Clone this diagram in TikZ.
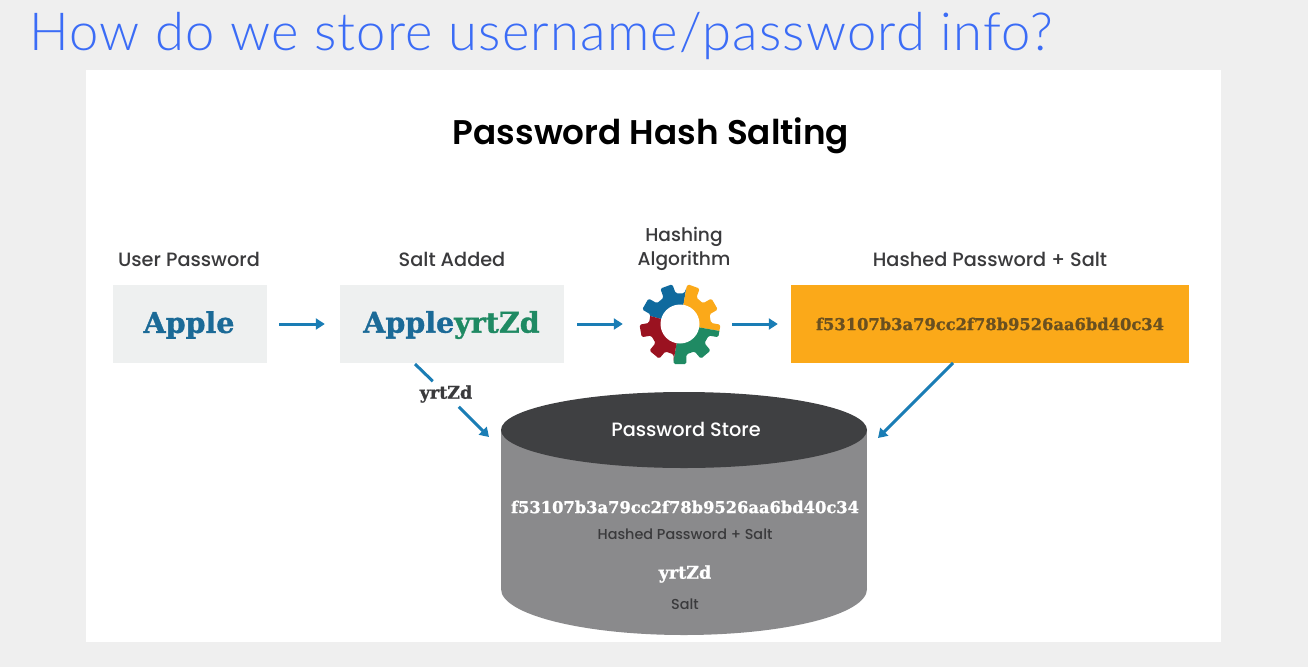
\documentclass[tikz,border=0pt]{standalone}
\usepackage{fontspec}
\usetikzlibrary{arrows.meta,shapes.geometric}
\setmainfont{Poppins Medium}
\newfontfamily\headf{Poppins SemiBold}
\newfontfamily\titlef{Lato Light}[LetterSpace=2.35]
\newfontfamily\slabf{DejaVu Serif Bold}[FakeBold=1.2]
\newcommand{\fs}[1]{\fontsize{#1}{#1}\selectfont}
\definecolor{pagebg}{HTML}{EFEFEF}
\definecolor{titleblue}{HTML}{3B6CF6}
\definecolor{arrowblue}{HTML}{1A7DB5}
\definecolor{boxgray}{HTML}{EEF0F0}
\definecolor{amberbox}{HTML}{FBA919}
\definecolor{appleblue}{HTML}{1B6A97}
\definecolor{saltgreen}{HTML}{1F8A63}
\definecolor{darktext}{HTML}{3A3A3C}
\definecolor{cyltop}{HTML}{3F4042}
\definecolor{cylbody}{HTML}{8A8A8C}
\definecolor{hashbrown}{HTML}{6A5020}
\definecolor{gearblue}{HTML}{0F6A9E}
\definecolor{gearamber}{HTML}{FBA919}
\definecolor{geargreen}{HTML}{1F8A63}
\definecolor{gearred}{HTML}{9A1220}
\tikzset{
  x=1pt,y=-1pt,
  flow/.style={draw=arrowblue,line width=3pt,-{Triangle[length=9pt,width=11pt]}},
  plainflow/.style={draw=arrowblue,line width=3pt},
  caption/.style={inner sep=0pt,text=darktext,font=\fs{19.3}},
  smallcap/.style={inner sep=0pt,text=darktext,font=\fs{14.4}},
  valuebox/.style={inner sep=0pt,minimum height=78pt},
  slab/.style={inner sep=0pt},
}
\begin{document}
\begin{tikzpicture}
\useasboundingbox (0,0) rectangle (1308,667);
\fill[pagebg] (0,0) rectangle (1308,667);
\fill[white] (86,70) rectangle (1221,642);
\node[inner sep=0pt,anchor=base west,text=titleblue,font=\titlef\fs{52.5}] (title) at (29,50) {How do we store username/password info?};
\node[inner sep=0pt,font=\headf\fs{34.2},text=black] (head) at (651,136) {Password Hash Salting};
% boxes
\node[valuebox,fill=boxgray,minimum width=154pt] (user) at (190,324) {};
\node[slab,text=appleblue,font=\slabf\fs{28.5}] (usertxt) at (189,325) {Apple};
\node[valuebox,fill=boxgray,minimum width=224pt] (salt) at (452,324) {};
\node[slab,font=\slabf\fs{28.5}] (salttxt) at (451.5,325) {\textcolor{appleblue}{Apple}\textcolor{saltgreen}{yrtZd}};
\node[valuebox,fill=amberbox,minimum width=398pt] (hash) at (990,324) {};
\node[slab,text=hashbrown,font=\slabf\fs{16.3}] (hashtxt) at (990,324) {f53107b3a79cc2f78b9526aa6bd40c34};
% captions
\node[caption] (c1) at (189,259) {User Password};
\node[caption] (c2) at (452,259) {Salt Added};
\node[caption,align=center,font=\fs{18.6}] (c3) at (684,249) {Hashing\\[3pt]Algorithm};
\node[caption] (c4) at (990,259) {Hashed Password + Salt};
% gear
\node[circle,inner sep=0pt,minimum size=80pt] (gear) at (680,324) {};
\begin{scope}[shift={(680,324)},y=1pt]
  \begin{scope}
    \clip[rounded corners=1.5pt] (-116:31)
      \foreach \a in {-90,-50,...,230}{
        -- (\a-12:31) -- (\a-9:40.5) -- (\a+9:40.5) -- (\a+12:31)
      } -- cycle;
    \fill[gearblue] (0,0) -- (80:50) arc (80:165:50) -- cycle;
    \fill[gearamber] (0,0) -- (80:50) arc (80:-10:50) -- cycle;
    \fill[geargreen] (0,0) -- (-10:50) arc (-10:-100:50) -- cycle;
    \fill[gearred] (0,0) -- (-100:50) arc (-100:-195:50) -- cycle;
  \end{scope}
  \fill[white] (0,0) circle (19.5);
\end{scope}
% cylinder
\fill[cylbody] (501,430) rectangle (867,589);
\fill[cylbody] (684,589) ellipse[x radius=183,y radius=46];
\node[ellipse,fill=cyltop,inner sep=0pt,minimum width=366pt,minimum height=76pt] (store) at (684,430) {};
\node[inner sep=0pt,text=white,font=\fs{19.3}] (s1) at (686,429) {Password Store};
\node[slab,text=white,font=\slabf\fs{16.3}] (s2) at (685,507) {f53107b3a79cc2f78b9526aa6bd40c34};
\node[smallcap] (s3) at (685,534) {Hashed Password + Salt};
\node[slab,text=white,font=\slabf\fs{17.5}] (s4) at (685,574) {yrtZd};
\node[smallcap] (s5) at (685,604) {Salt};
% connectors
\draw[flow,shorten <=12pt,shorten >=15pt,yshift=1pt] (user.east) -- (salt.west);
\draw[flow,shorten <=13pt,shorten >=17pt,yshift=1pt] (salt.east) -- (gear.west);
\draw[flow,shorten <=12pt,shorten >=13pt,yshift=1pt] (gear.east) -- (hash.west);
\coordinate (saltout) at (415,364);
\coordinate (storein) at (489,437);
\coordinate (hashout) at (953,363);
\coordinate (storeinb) at (878,438);
\node[slab,text=darktext,font=\slabf\fs{17.5},inner xsep=2pt,inner ysep=4pt] (lbl) at (446,394) {yrtZd};
\draw[plainflow] (saltout) -- (lbl);
\draw[flow] (lbl) -- (storein);
\draw[flow] (hashout) -- (storeinb);
\end{tikzpicture}
\end{document}
